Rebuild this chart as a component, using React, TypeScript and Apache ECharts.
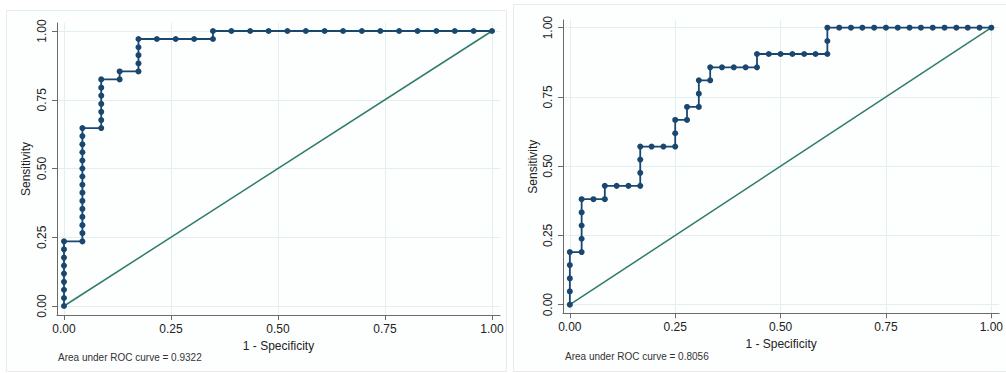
import React, { useEffect, useRef } from "react";
import * as echarts from "echarts";

// ---- data ----
const tickValues = [0, 0.25, 0.5, 0.75, 1];
const xAxisTitle = "1 - Specificity";
const yAxisTitle = "Sensitivity";
const leftFootnote = "Area under ROC curve = 0.9322";
const rightFootnote = "Area under ROC curve = 0.8056";

const leftFpr = [
  0, 0, 0, 0, 0, 0, 0, 0, 0,
  0.043, 0.043, 0.043, 0.043, 0.043, 0.043, 0.043, 0.043, 0.043, 0.043, 0.043, 0.043, 0.043, 0.043, 0.043,
  0.087, 0.087, 0.087, 0.087, 0.087, 0.087, 0.087,
  0.13, 0.13,
  0.174, 0.174, 0.174, 0.174, 0.174,
  0.217, 0.261, 0.304,
  0.348, 0.348,
  0.391, 0.435, 0.478, 0.522, 0.565, 0.609, 0.652, 0.696, 0.739, 0.783, 0.826, 0.87, 0.913, 0.957, 1.0,
];
const leftTpr = [
  0, 0.029, 0.059, 0.088, 0.118, 0.147, 0.176, 0.206, 0.235,
  0.235, 0.265, 0.294, 0.324, 0.353, 0.382, 0.412, 0.441, 0.471, 0.5, 0.529, 0.559, 0.588, 0.618, 0.647,
  0.647, 0.676, 0.706, 0.735, 0.765, 0.794, 0.824,
  0.824, 0.853,
  0.853, 0.882, 0.912, 0.941, 0.971,
  0.971, 0.971, 0.971,
  0.971, 1.0,
  1, 1, 1, 1, 1, 1, 1, 1, 1, 1, 1, 1, 1, 1, 1,
];

const rightFpr = [
  0, 0, 0, 0, 0,
  0.028, 0.028, 0.028, 0.028, 0.028,
  0.056,
  0.083, 0.083,
  0.111, 0.139,
  0.167, 0.167, 0.167, 0.167,
  0.194, 0.222,
  0.25, 0.25, 0.25,
  0.278, 0.278,
  0.306, 0.306, 0.306,
  0.333, 0.333,
  0.361, 0.389, 0.417,
  0.444, 0.444,
  0.472, 0.5, 0.528, 0.556, 0.583,
  0.611, 0.611, 0.611,
  0.639, 0.667, 0.694, 0.722, 0.75, 0.778, 0.806, 0.833, 0.861, 0.889, 0.917, 0.944, 0.972, 1.0,
];
const rightTpr = [
  0, 0.048, 0.095, 0.143, 0.19,
  0.19, 0.238, 0.286, 0.333, 0.381,
  0.381,
  0.381, 0.429,
  0.429, 0.429,
  0.429, 0.476, 0.524, 0.571,
  0.571, 0.571,
  0.571, 0.619, 0.667,
  0.667, 0.714,
  0.714, 0.762, 0.81,
  0.81, 0.857,
  0.857, 0.857, 0.857,
  0.857, 0.905,
  0.905, 0.905, 0.905, 0.905, 0.905,
  0.905, 0.952, 1.0,
  1, 1, 1, 1, 1, 1, 1, 1, 1, 1, 1, 1, 1, 1,
];

const referenceLine = [
  [0, 0],
  [1, 1],
];

// ---- styles ----
const FONT = "Liberation Sans";
const NAVY = "#1a476f";
const GREEN = "#2e7b6b";
const GRID = "#e3eeef";
const AXIS = "#6a6a6a";
const TEXT = "#222";

function zip(a: number[], b: number[]) {
  return a.map((v, i) => [v, b[i]]);
}

function makeXAxis(gridIndex: number, min: number, max: number, nameGap: number) {
  return {
    type: "value",
    gridIndex,
    min,
    max,
    name: xAxisTitle,
    nameLocation: "middle",
    nameGap,
    nameTextStyle: { fontFamily: FONT, fontSize: 12, color: TEXT },
    axisLine: { show: true, onZero: false, lineStyle: { color: AXIS, width: 1 } },
    axisTick: { show: true, length: 5, customValues: tickValues, lineStyle: { color: AXIS } },
    axisLabel: {
      customValues: tickValues,
      formatter: (v: number) => v.toFixed(2),
      margin: 8,
      fontFamily: FONT,
      fontSize: 12,
      color: TEXT,
    },
    splitLine: { show: false },
  };
}

function makeYAxis(gridIndex: number, min: number, max: number, nameGap: number) {
  return {
    type: "value",
    gridIndex,
    min,
    max,
    name: yAxisTitle,
    nameLocation: "middle",
    nameGap,
    nameTextStyle: { fontFamily: FONT, fontSize: 12, color: TEXT },
    axisLine: { show: true, onZero: false, lineStyle: { color: AXIS, width: 1 } },
    axisTick: { show: true, length: 5, customValues: tickValues, lineStyle: { color: AXIS } },
    axisLabel: {
      customValues: tickValues,
      formatter: (v: number) => v.toFixed(2),
      rotate: 90,
      margin: 9,
      fontFamily: FONT,
      fontSize: 12,
      color: TEXT,
    },
    splitLine: { show: false },
  };
}

function gridSeries(idx: number) {
  return {
    type: "line",
    xAxisIndex: idx,
    yAxisIndex: idx,
    data: [],
    silent: true,
    z: 0,
    markLine: {
      silent: true,
      z: 0,
      symbol: "none",
      label: { show: false },
      lineStyle: { color: GRID, width: 1, type: "solid" },
      emphasis: { disabled: true },
      data: [
        ...tickValues.map((v) => ({ xAxis: v })),
        ...tickValues.map((v) => ({ yAxis: v })),
      ],
    },
  };
}

function refSeries(idx: number) {
  return {
    type: "line",
    xAxisIndex: idx,
    yAxisIndex: idx,
    data: referenceLine,
    showSymbol: false,
    symbol: "none",
    lineStyle: { color: GREEN, width: 1.5 },
    z: 2,
    silent: true,
  };
}

function rocSeries(idx: number, data: number[][]) {
  return {
    type: "line",
    xAxisIndex: idx,
    yAxisIndex: idx,
    data,
    showSymbol: true,
    symbol: "circle",
    symbolSize: 6,
    itemStyle: { color: NAVY },
    lineStyle: { color: NAVY, width: 1.8 },
    clip: false,
    z: 3,
  };
}

export default function App() {
  const ref = useRef<HTMLDivElement>(null);

  useEffect(() => {
    if (!ref.current) return;
    const chart = echarts.init(ref.current, undefined, { renderer: "svg" });
    chart.setOption({
      animation: false,
      backgroundColor: "#ffffff",
      grid: [
        { left: 57, top: 23, width: 443, height: 292 },
        { left: 563, top: 20, width: 446, height: 293.3 },
      ],
      xAxis: [
        makeXAxis(0, -7 / 428, 436 / 428, 21),
        makeXAxis(1, -7 / 431, 439 / 431, 22),
      ],
      yAxis: [
        makeYAxis(0, -9 / 275, 1 + 8 / 275, 25),
        makeYAxis(1, -8.6 / 277, 1 + 7.7 / 277, 24),
      ],
      series: [
        gridSeries(0),
        refSeries(0),
        rocSeries(0, zip(leftFpr, leftTpr)),
        gridSeries(1),
        refSeries(1),
        rocSeries(1, zip(rightFpr, rightTpr)),
      ],
      graphic: [
        {
          type: "rect",
          z: -10,
          silent: true,
          shape: { x: 6.5, y: 10.5, width: 500, height: 361 },
          style: { fill: "#fdfefe", stroke: "#e4ecec", lineWidth: 1 },
        },
        {
          type: "rect",
          z: -10,
          silent: true,
          shape: { x: 513.5, y: 4.5, width: 500, height: 367 },
          style: { fill: "#fdfefe", stroke: "#e4ecec", lineWidth: 1 },
        },
        {
          type: "text",
          left: 58,
          top: 352,
          style: { text: leftFootnote, fontFamily: FONT, fontSize: 10, fill: "#333" },
        },
        {
          type: "text",
          left: 565,
          top: 351.5,
          style: { text: rightFootnote, fontFamily: FONT, fontSize: 10, fill: "#333" },
        },
      ],
    });
    return () => chart.dispose();
  }, []);

  return (
    <div
      ref={ref}
      style={{ position: "fixed", left: 0, top: 0, width: 1006, height: 373, background: "#fff" }}
    />
  );
}
